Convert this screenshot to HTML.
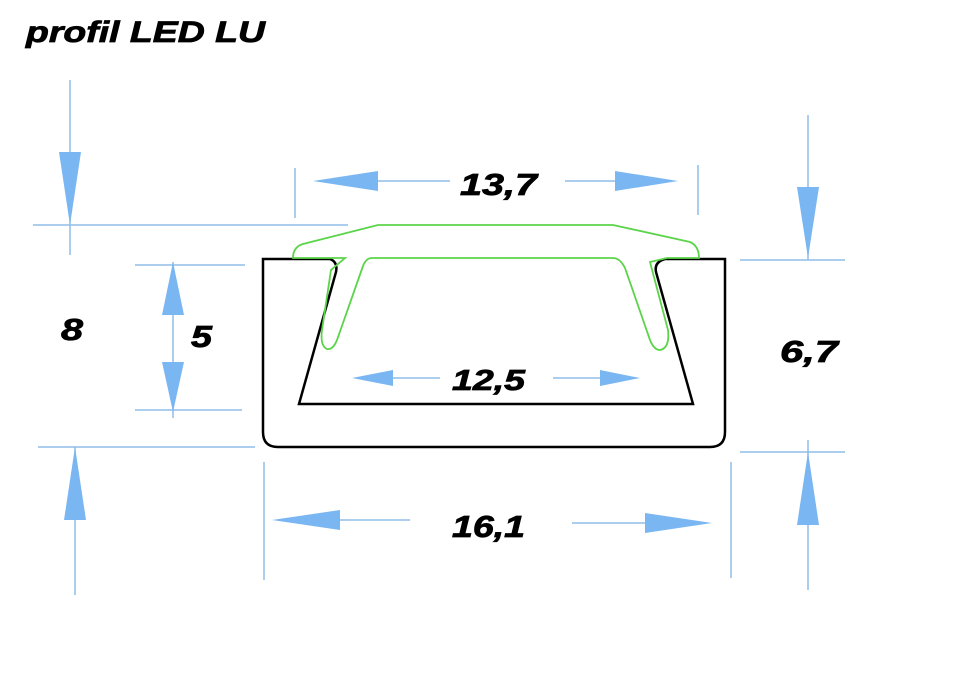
<!DOCTYPE html>
<html><head><meta charset="utf-8"><style>
html,body{margin:0;padding:0;background:#fff;}
svg{display:block}
text{font-family:"Liberation Sans",sans-serif;font-weight:bold;font-style:italic;fill:#000;stroke:#000;stroke-width:0.8}
</style></head><body>
<svg width="959" height="689" viewBox="0 0 959 689" xmlns="http://www.w3.org/2000/svg">
<text x="26" y="42" font-size="30" textLength="239" lengthAdjust="spacingAndGlyphs">profil LED LU</text>
<g stroke="#8fbde8" stroke-width="1.5" fill="none">
<line x1="70" y1="80" x2="70" y2="255"/>
<line x1="33" y1="225" x2="348" y2="225"/>
<line x1="38" y1="447" x2="255" y2="447"/>
<line x1="75" y1="447" x2="75" y2="595"/>
<line x1="173" y1="262" x2="173" y2="418"/>
<line x1="135" y1="265" x2="245" y2="265"/>
<line x1="135" y1="410" x2="242" y2="410"/>
<line x1="295" y1="168" x2="295" y2="218"/>
<line x1="698" y1="165" x2="698" y2="215"/>
<line x1="378" y1="181" x2="450" y2="181"/>
<line x1="565" y1="181" x2="615" y2="181"/>
<line x1="393" y1="378" x2="440" y2="378"/>
<line x1="553" y1="378" x2="600" y2="378"/>
<line x1="264" y1="462" x2="264" y2="580"/>
<line x1="731" y1="462" x2="731" y2="578"/>
<line x1="340" y1="520" x2="410" y2="520"/>
<line x1="572" y1="523" x2="645" y2="523"/>
<line x1="808" y1="115" x2="808" y2="260"/>
<line x1="740" y1="260" x2="845" y2="260"/>
<line x1="740" y1="452" x2="845" y2="452"/>
<line x1="808" y1="440" x2="808" y2="590"/>
</g>
<g fill="#7ab6f2">
<polygon points="59,152 81,152 70,225"/>
<polygon points="64,520 86,520 75,447"/>
<polygon points="162,315 184,315 173,262"/>
<polygon points="162,362 184,362 173,412"/>
<polygon points="378,171 378,191 313,181"/>
<polygon points="615,171 615,191 678,181"/>
<polygon points="393,370 393,386 352,378"/>
<polygon points="600,370 600,386 640,378"/>
<polygon points="340,510 340,530 272,520"/>
<polygon points="645,513 645,533 712,523"/>
<polygon points="797,187 819,187 808,258"/>
<polygon points="797,525 819,525 808,452"/>
</g>
<path d="M263,259 L330,259 Q338,262 336,272 L299,404 L693,404 L656,272 Q654,262 665,259 L725,259 L725,432 Q725,447 710,447 L278,447 Q263,447 263,432 Z" fill="none" stroke="#000" stroke-width="2.5"/>
<path d="M293,258 Q293,247 303,244 L378,225 L613,225 L690,242 Q699,246 699,258 L667,258 L650,262 L668,330 Q670,348 660,350 Q654,350 650,340 L625,268 Q620,258 613,258 L372,258 Q366,258 363,266 L337,340 Q333,350 327,349 Q320,346 322,330 L331,270 L345,258 Z" fill="none" stroke="#5bd44a" stroke-width="1.8"/>
<text x="460" y="195" font-size="31" textLength="77" lengthAdjust="spacingAndGlyphs">13,7</text>
<text x="452" y="390" font-size="29" textLength="73" lengthAdjust="spacingAndGlyphs">12,5</text>
<text x="452" y="537" font-size="31" textLength="73" lengthAdjust="spacingAndGlyphs">16,1</text>
<text x="780" y="362" font-size="31" textLength="58" lengthAdjust="spacingAndGlyphs">6,7</text>
<text x="61" y="340" font-size="31" textLength="22" lengthAdjust="spacingAndGlyphs">8</text>
<text x="191" y="347" font-size="31" textLength="21" lengthAdjust="spacingAndGlyphs">5</text>
</svg>
</body></html>
